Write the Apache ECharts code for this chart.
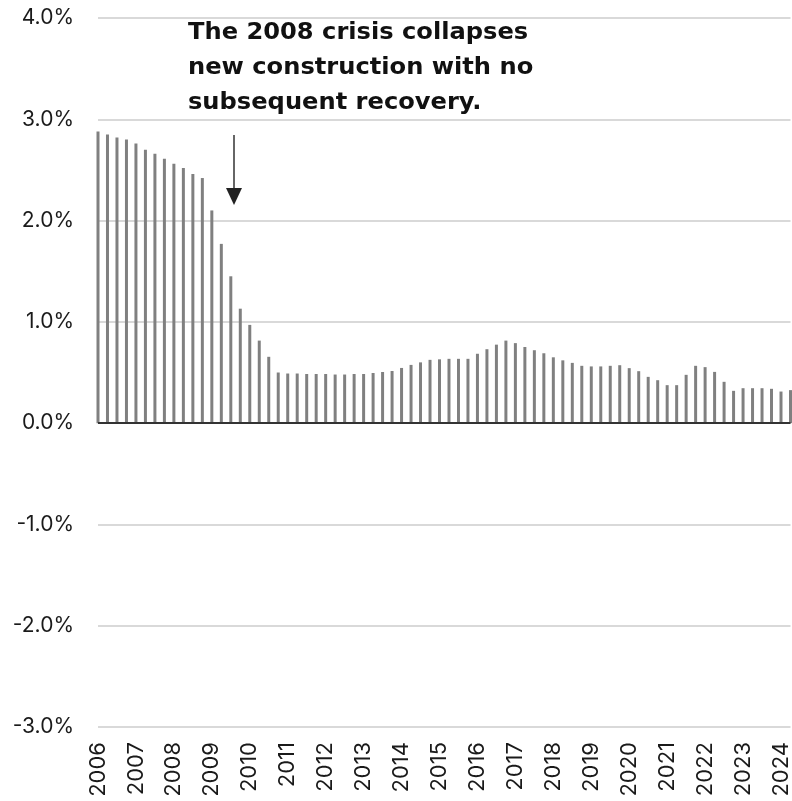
<!DOCTYPE html>
<html>
<head>
<meta charset="utf-8">
<script src="https://cdn.jsdelivr.net/npm/echarts@6/dist/echarts.min.js"></script>
<style>
  html, body { margin: 0; padding: 0; background: #fff; }
  #chart { width: 792px; height: 801px; }
</style>
</head>
<body>
<div id="chart"></div>
<script>
// Year tick labels along the horizontal axis (one every four quarters)
const years = ['2006','2007','2008','2009','2010','2011','2012','2013','2014','2015',
               '2016','2017','2018','2019','2020','2021','2022','2023','2024'];

// Quarterly periods, 2006 Q1 through 2024 Q2
const quarters = [];
years.forEach(function (y) {
  ['Q1','Q2','Q3','Q4'].forEach(function (q) { quarters.push(y + ' ' + q); });
});
quarters.length = 74;

// Quarterly rate, in percent
const rate = [
  2.88, 2.85, 2.82, 2.80, 2.76, 2.70, 2.66, 2.61, 2.56, 2.52, 2.46, 2.42,
  2.10, 1.77, 1.45, 1.13, 0.97, 0.815, 0.655, 0.50,
  0.49, 0.49, 0.485, 0.485, 0.485, 0.48, 0.48, 0.485, 0.485, 0.495, 0.505, 0.515,
  0.545, 0.575, 0.60, 0.625, 0.63, 0.635, 0.635, 0.635,
  0.685, 0.73, 0.775, 0.815, 0.79, 0.752, 0.72, 0.69, 0.65, 0.62, 0.595, 0.566,
  0.56, 0.56, 0.566, 0.572, 0.543, 0.513, 0.457, 0.424,
  0.375, 0.375, 0.477, 0.566, 0.553, 0.506, 0.408, 0.319,
  0.345, 0.345, 0.345, 0.339, 0.312, 0.326
];

// Value-axis range and step, in percent
const yMin = -3, yMax = 4, yStep = 1;

const annotation = 'The 2008 crisis collapses\nnew construction with no\nsubsequent recovery.';

const labelFont = 'Inter, "Noto Sans", sans-serif';

const chart = echarts.init(document.getElementById('chart'), null, { renderer: 'canvas' });

chart.setOption({
  animation: false,
  backgroundColor: '#ffffff',
  textStyle: { fontFamily: labelFont },
  grid: { left: 98, right: 0.5, top: 18, bottom: 74, containLabel: false },
  xAxis: {
    type: 'category',
    data: quarters,
    boundaryGap: false,
    axisLine: { show: false, onZero: false },
    axisTick: { show: false },
    splitLine: { show: false },
    axisLabel: {
      rotate: 90,
      margin: 15,
      color: '#1a1a1a',
      fontSize: 22,
      fontFamily: labelFont,
      interval: function (i) { return i % 4 === 0; },
      formatter: function (v) { return v.slice(0, 4); }
    }
  },
  yAxis: {
    type: 'value',
    min: yMin,
    max: yMax,
    interval: yStep,
    axisLine: { show: false },
    axisTick: { show: false },
    splitLine: { lineStyle: { color: '#d9d9d9', width: 2 } },
    axisLabel: {
      margin: 24,
      color: '#1a1a1a',
      fontSize: 21,
      fontFamily: labelFont,
      formatter: function (v) { return v.toFixed(1) + '%'; }
    }
  },
  series: [{
    type: 'bar',
    data: rate,
    barWidth: 3,
    clip: false,
    itemStyle: { color: '#808080' },
    markLine: {
      silent: true,
      symbol: 'none',
      label: { show: false },
      lineStyle: { color: '#333333', width: 2, type: 'solid' },
      data: [{ yAxis: 0 }]
    }
  }],
  graphic: [
    {
      type: 'text',
      left: 188,
      top: 16,
      scaleX: 1.05,
      style: {
        text: annotation,
        font: 'bold 23px "DejaVu Sans", Inter, sans-serif',
        fill: '#111111',
        lineHeight: 35
      }
    },
    {
      type: 'line',
      shape: { x1: 234, y1: 135, x2: 234, y2: 190 },
      style: { stroke: '#333333', lineWidth: 1.5 }
    },
    {
      type: 'polygon',
      shape: { points: [[226, 188], [242, 188], [234, 205]] },
      style: { fill: '#222222' }
    }
  ]
});
</script>
</body>
</html>
